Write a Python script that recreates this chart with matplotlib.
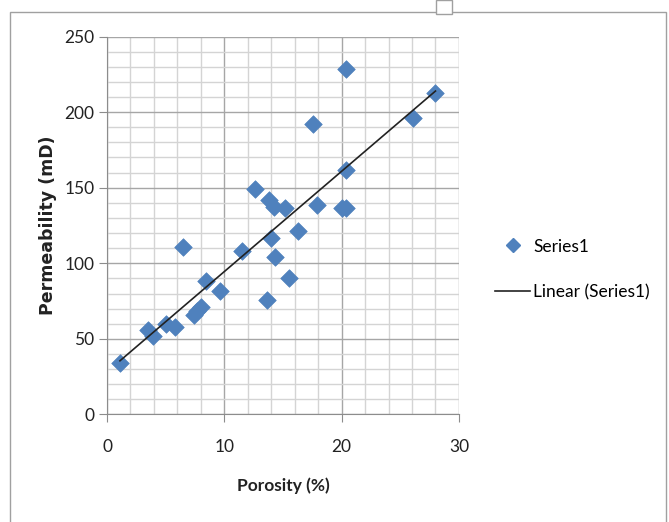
import numpy as np
import matplotlib
matplotlib.use("Agg")
import matplotlib.pyplot as plt
from matplotlib.patches import Rectangle
from matplotlib.lines import Line2D

porosity = [1.1, 3.5, 3.9, 5.0, 5.8, 6.5, 7.4, 7.7, 8.0, 8.4, 9.6, 11.5, 12.6,
            13.6, 13.8, 14.0, 14.2, 14.3, 15.2, 15.5, 16.3, 17.6, 17.9, 20.0,
            20.4, 20.4, 20.4, 26.1, 28.0]
permeability = [34, 56, 52, 60, 58, 111, 66, 68.5, 71, 88, 82, 108, 149,
                76, 142, 117, 137.5, 104, 136.5, 90, 121.5, 192, 138.5, 136.5,
                136.5, 161.5, 228.5, 196, 212.5]
x_ticks = [0, 10, 20, 30]
y_ticks = [0, 50, 100, 150, 200, 250]

plt.rcParams['font.family'] = ['Lato', 'DejaVu Sans']

fig = plt.figure(figsize=(6.69, 5.22), dpi=100)
ax = fig.add_axes([0.160, 0.206, 0.526, 0.724])

blue = '#4F81BD'
ax.scatter(porosity, permeability, marker='D', s=80, color=blue,
           edgecolors=blue, linewidths=0.5, zorder=3)

coef = np.polyfit(porosity, permeability, 1)
xl = np.array([min(porosity), max(porosity)])
ax.plot(xl, np.polyval(coef, xl), color='#222222', lw=1.2, zorder=4)

ax.set_xlim(0, 30)
ax.set_ylim(0, 250)
ax.set_xticks(x_ticks)
ax.set_yticks(y_ticks)
ax.set_xticks(np.arange(0, 31, 2), minor=True)
ax.set_yticks(np.arange(0, 251, 10), minor=True)
ax.grid(which='minor', color='#d4d4d4', lw=1.0)
ax.grid(which='major', color='#a6a6a6', lw=1.0)
ax.set_axisbelow(True)
ax.tick_params(which='minor', length=0)
ax.tick_params(which='major', length=6, color='#8c8c8c', labelsize=12.5,
               labelcolor='#222222')
ax.tick_params(axis='x', pad=12)
ax.tick_params(axis='y', pad=3)
for s in ['top', 'right']:
    ax.spines[s].set_visible(False)
for s in ['left', 'bottom']:
    ax.spines[s].set_color('#8c8c8c')

ax.set_xlabel('Porosity (%)', fontsize=12.5, fontweight='bold', labelpad=16,
              color='#222222')
ax.set_ylabel('Permeability (mD)', fontsize=12.5, fontweight='bold',
              family=['DejaVu Sans'], labelpad=5, color='#222222')

handles = [Line2D([], [], marker='D', color=blue, ls='none', markersize=7),
           Line2D([], [], color='#222222', lw=1.2)]
fig.legend(handles, ['Series1', 'Linear (Series1)'], loc='center left',
           bbox_to_anchor=(0.717, 0.484), frameon=False, fontsize=12.5,
           handlelength=2.0, labelspacing=1.7, handletextpad=0.2)

# outer frame
fig.patches.append(Rectangle((10 / 669, -0.01), 656 / 669, 1 - 12 / 522 + 0.01,
                             transform=fig.transFigure, fill=False,
                             edgecolor='#a0a0a0', lw=1.0))
fig.patches.append(Rectangle((436 / 669, 1 - 14 / 522), 16 / 669, 14 / 522,
                             transform=fig.transFigure, facecolor='white',
                             edgecolor='#a0a0a0', lw=1.0))

fig.savefig('out.png', dpi=100)
